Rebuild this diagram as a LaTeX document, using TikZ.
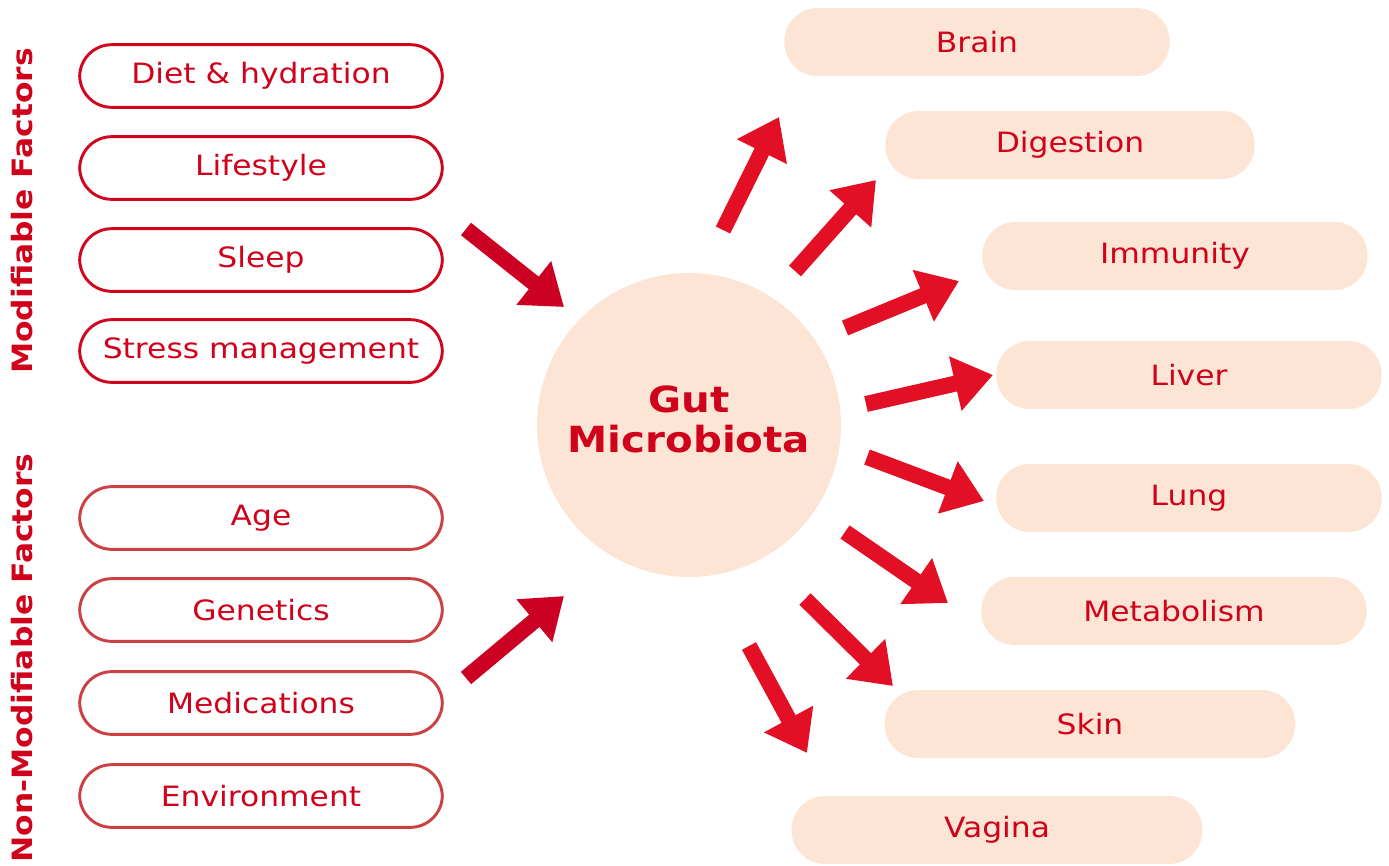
\documentclass[tikz,border=0pt]{standalone}
\usepackage{fontspec}
\setmainfont{DejaVu Sans}[FakeStretch=1.12]
\usetikzlibrary{arrows.meta}
\definecolor{gutred}{HTML}{D0021B}
\definecolor{modred}{HTML}{D0061E}
\definecolor{fixred}{HTML}{CB4042}
\definecolor{inred}{HTML}{CC0022}
\definecolor{outred}{HTML}{E31025}
\definecolor{peach}{HTML}{FDE5D5}
\begin{document}
\begin{tikzpicture}[x=0.75pt, y=-0.75pt,
  factor/.style={draw=modred, line width=2.2pt, rounded corners=24pt,
    minimum width=272pt, minimum height=47pt, text=gutred,
    font=\fontsize{21}{25}\selectfont},
  fixed/.style={factor, draw=fixred},
  organ/.style={fill=peach, rounded corners=25pt, minimum height=51pt,
    text=gutred, font=\fontsize{21}{25}\selectfont},
  side/.style={rotate=90, text=gutred, font=\fontsize{21}{25}\selectfont\bfseries},
  inarrow/.style={draw=inred, line width=12pt, -{Triangle[width=40pt,length=29pt]}},
  outarrow/.style={inarrow, draw=outred}]
\useasboundingbox (0,0) rectangle (1389,865);

% left column
\node[side] (modlab) at (22,211) {Modifiable Factors};
\node[side] (fixlab) at (22,658) {Non-Modifiable Factors};
\node[factor] (diet) at (261,76) {Diet \& hydration};
\node[factor] (life) at (261,168) {Lifestyle};
\node[factor] (sleep) at (261,260) {Sleep};
\node[factor] (stress) at (261,351) {Stress management};
\node[fixed] (age) at (261,518) {Age};
\node[fixed] (gene) at (261,610) {Genetics};
\node[fixed] (meds) at (261,703) {Medications};
\node[fixed] (env) at (261,796) {Environment};

% centre
\node[circle, fill=peach, minimum size=228pt] (gut) at (689,425) {};
\node[text=gutred, align=center, font=\fontsize{27}{30}\selectfont\bfseries]
  (gutlab) at (689,419) {Gut\\Microbiota};

% right column
\node[organ, minimum width=289pt] (brain) at (977,42) {Brain};
\node[organ, minimum width=277pt] (dig) at (1070,145) {Digestion};
\node[organ, minimum width=289pt] (imm) at (1175,256) {Immunity};
\node[organ, minimum width=289pt] (liver) at (1189,375) {Liver};
\node[organ, minimum width=289pt] (lung) at (1189,498) {Lung};
\node[organ, minimum width=289pt] (meta) at (1174,611) {Metabolism};
\node[organ, minimum width=308pt] (skin) at (1090,724) {Skin};
\node[organ, minimum width=308pt] (vag) at (997,830) {Vagina};

% arrows
\coordinate (modfrom) at (466,229);
\coordinate (modto) at (564,307);
\coordinate (fixfrom) at (466,678);
\coordinate (fixto) at (564,596);
\draw[inarrow] (modfrom) -- (modto);
\draw[inarrow] (fixfrom) -- (fixto);
\foreach \org/\sx/\sy/\ex/\ey in {brain/723/230/779/117, dig/795/271/876/180,
    imm/845/328/959/281, liver/866/404/993/375, lung/867/457/984/501,
    meta/845/532/948/603, skin/805/599/893/686, vag/749/646/807/753} {
  \coordinate (\org-from) at (\sx,\sy);
  \coordinate (\org-to) at (\ex,\ey);
  \draw[outarrow] (\org-from) -- (\org-to);
}
\end{tikzpicture}
\end{document}
